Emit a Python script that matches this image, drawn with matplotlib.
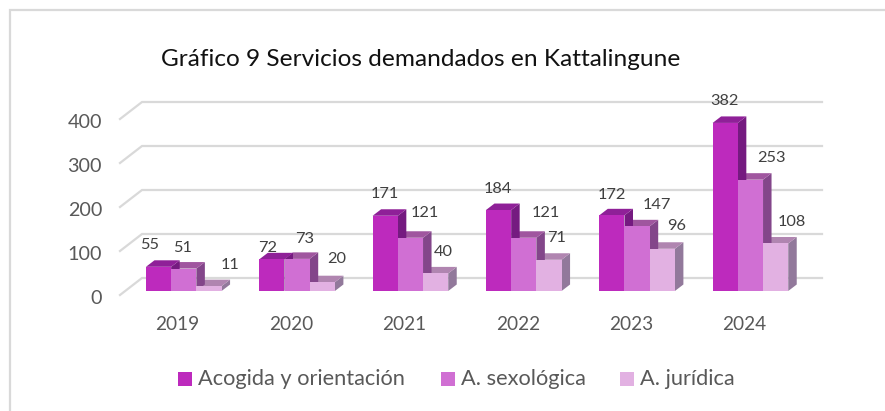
import matplotlib
matplotlib.use("Agg")
import matplotlib.pyplot as plt
from matplotlib.patches import Polygon, Rectangle

years = ['2019', '2020', '2021', '2022', '2023', '2024']
acogida = [55, 72, 171, 184, 172, 382]
sexologica = [51, 73, 121, 121, 147, 253]
juridica = [11, 20, 40, 71, 96, 108]
series_names = ['Acogida y orientación', 'A. sexológica', 'A. jurídica']
yticks = [0, 100, 200, 300, 400]

plt.rcParams['font.family'] = ['Lato', 'DejaVu Sans']

W, H = 885, 411
fig = plt.figure(figsize=(W / 100, H / 100), dpi=100)

# front plane of the fake 3d box: x 120-800 px, 0 at y=295, 0.44 px per unit
ax = fig.add_axes([120 / W, (H - 295) / H, 680 / W, 176 / H])
ax.set_xlim(-0.5, 5.5)
ax.set_ylim(0, 400)
ax.axis('off')

px_x = 6 / 680      # data units per pixel
px_y = 400 / 176

def X(p):
    return p * px_x

def Y(p):
    return p * px_y

# chart border, only top and left are inside the crop
border_y = 1 - 10.5 / H
fig.add_artist(plt.Line2D([9.5 / W, 9.5 / W, 1], [0, border_y, border_y], transform=fig.transFigure,
                          color='#d9d9d9', lw=1.6, solid_joinstyle='miter'))

# grid runs along the side and the back wall
for v in yticks:
    ax.plot([-0.5, -0.5 + X(22), 5.5 + X(22)], [v, v + Y(17), v + Y(17)],
            color='#d9d9d9', lw=1.6, clip_on=False, zorder=1, solid_joinstyle='miter')
    ax.text(-0.5 - X(18), v - Y(3.5), str(v), ha='right', va='center', fontsize=14.2, color='#595959')

for i, y in enumerate(years):
    ax.text(i + X(1), -Y(29), y, ha='center', va='center', fontsize=13.7, color='#595959')

colors = ['#bd2abd', '#d06fd3', '#e2b1e2']
side_colors = ['#751a80', '#83468a', '#92799b']
top_colors = ['#8f2098', '#a0569f', '#b085b0']
series = [acogida, sexologica, juridica]

bar_w = X(25.2)
start = X(-30.7)
dep_x = X(8.5)
dep_y = Y(6.5)
base_y = Y(4)

for k in [2, 1, 0]:
    for i, v in enumerate(series[k]):
        x0 = i + start + k * bar_w
        x1 = x0 + bar_w
        y0 = base_y
        y1 = base_y + v
        ax.add_patch(Polygon([(x1, y0), (x1 + dep_x, y0 + dep_y), (x1 + dep_x, y1 + dep_y), (x1, y1)],
                             fc=side_colors[k], ec='none', clip_on=False, zorder=3 + i * 3 + (2 - k) * 0.1))
        ax.add_patch(Polygon([(x0, y1), (x0 + dep_x, y1 + dep_y), (x1 + dep_x, y1 + dep_y), (x1, y1)],
                             fc=top_colors[k], ec='none', clip_on=False, zorder=3 + i * 3 + (2 - k) * 0.1))
        ax.add_patch(Rectangle((x0, y0), bar_w, v, fc=colors[k], ec='none', clip_on=False,
                               zorder=4 + i * 3 + (2 - k) * 0.1))

# label offsets from the top centre of each bar, in px
label_off = [
    [(-8.5, 22), (-4, 11.5), (0, 21.5), (-0.5, 21.5), (0, 20.5), (-1, 21.5)],
    [(-0.7, 21), (8, 19.5), (14, 24.5), (22, 24.5), (20, 21.5), (21, 21.5)],
    [(21, 21.5), (14, 23.5), (7.5, 21.5), (8, 21.5), (14, 22.5), (16, 21.5)],
]
for k in range(3):
    for i, v in enumerate(series[k]):
        dx, dy = label_off[k][i]
        ax.annotate(str(v), (i + start + (k + 0.5) * bar_w, base_y + v),
                    xytext=(dx * 0.72, dy * 0.72), textcoords='offset points',
                    ha='center', va='center', fontsize=11.8, color='#404040',
                    annotation_clip=False, zorder=60)

fig.text(421 / W, 1 - 60 / H, 'Gráfico 9 Servicios demandados en Kattalingune',
         ha='center', va='center', fontsize=17.6, color='#111111')

# legend
leg_x = [178, 441, 620]
for name, c, x in zip(series_names, colors, leg_x):
    fig.add_artist(Rectangle((x / W, 1 - 386 / H), 14 / W, 14 / H, transform=fig.transFigure, fc=c, ec='none'))
    fig.text((x + 20) / W, 1 - 379 / H, name, ha='left', va='center', fontsize=15.7, color='#595959')

fig.savefig('out.png', dpi=100)
